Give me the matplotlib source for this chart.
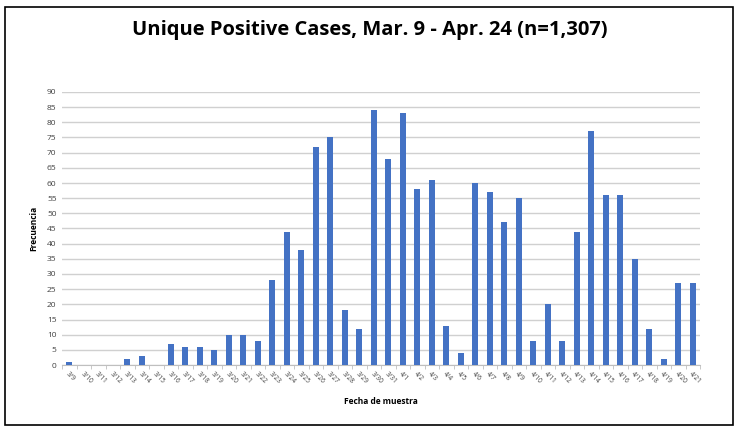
import matplotlib
matplotlib.use('Agg')
import matplotlib.pyplot as plt
from matplotlib.patches import Rectangle
import numpy as np

dates = ['3/%d' % d for d in range(9, 32)] + ['4/%d' % d for d in range(1, 22)]
counts = [1, 0, 0, 0, 2, 3, 0, 7, 6, 6, 5, 10, 10, 8, 28, 44, 38, 72, 75, 18, 12, 84,
          68, 83, 58, 61, 13, 4, 60, 57, 47, 55, 8, 20, 8, 44, 77, 56, 56, 35, 12, 2, 27, 27]

plt.rcParams['font.family'] = ['Open Sans', 'DejaVu Sans']

fig = plt.figure(figsize=(7.39, 4.32), dpi=100)
fig.patches.append(Rectangle((5/739, 7/432), 728/739, 418/432, transform=fig.transFigure,
                             fill=False, edgecolor='black', lw=1.2))
fig.text(0.5, 1 - 30/432, 'Unique Positive Cases, Mar. 9 - Apr. 24 (n=1,307)',
         ha='center', va='center', fontsize=14.5, fontweight='bold')

ax = fig.add_axes([62/739, 1 - 365/432, 638/739, 273/432])
x = np.arange(len(dates))
ax.bar(x, counts, width=0.42, color='#4472C4', zorder=3)
ax.set_xlim(-0.5, len(dates) - 0.5)
ax.set_ylim(0, 90)
ax.set_yticks(np.arange(0, 91, 5))
ax.grid(axis='y', color='#d0d0d0', lw=1, zorder=0)
for s in ['top', 'right', 'left']:
    ax.spines[s].set_visible(False)
ax.spines['bottom'].set_color('#bfbfbf')
ax.set_xticks(x)
ax.set_xticklabels(dates, rotation=-45, ha='left', rotation_mode='anchor', fontsize=4.8, color='#404040')
ax.set_xticks(np.arange(-0.5, len(dates), 1), minor=True)
ax.tick_params(axis='x', which='major', length=0, pad=4)
ax.tick_params(axis='x', which='minor', length=3, color='#bfbfbf')
ax.tick_params(axis='y', length=0, labelsize=6, labelcolor='#404040', pad=4)
ax.set_xlabel('Fecha de muestra', fontsize=6, fontweight='bold', labelpad=8)
ax.set_ylabel('Frecuencia', fontsize=6, fontweight='bold', labelpad=6)

fig.savefig('out.png', dpi=100)
